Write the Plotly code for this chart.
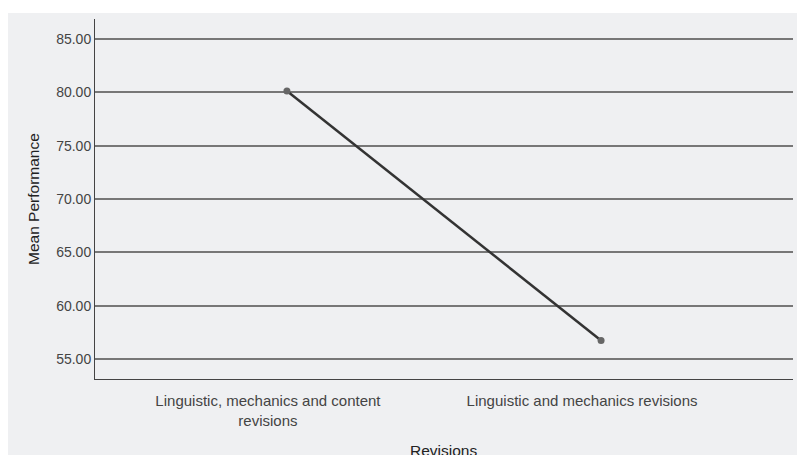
import plotly.graph_objects as go

categories = ["Linguistic, mechanics and content<br>revisions", "Linguistic and mechanics revisions"]
mean_performance = [80.13, 56.76]
y_ticks = [55, 60, 65, 70, 75, 80, 85]
y_tick_labels = ["55.00", "60.00", "65.00", "70.00", "75.00", "80.00", "85.00"]

# the page body has an 8px margin, so figure coordinates are page coordinates minus 8
OFF = 8
W, H = 805 - OFF, 455 - OFF
L, R, T, B = 95 - OFF, 805 - 793, 19 - OFF, 455 - 379
pw, ph = W - L - R, H - T - B


def px_x(page_x):
    return (page_x - OFF - L) / pw


def px_y(page_y):
    return (T + ph - (page_y - OFF)) / ph


fig = go.Figure()
fig.add_trace(go.Scatter(
    x=[0, 1], y=mean_performance, mode="lines+markers",
    line=dict(color="#333333", width=2.5),
    marker=dict(color="#666666", size=7),
    showlegend=False, hoverinfo="skip",
))

fig.add_shape(type="rect", xref="paper", yref="paper",
              x0=px_x(8), x1=px_x(805) + 0.02,
              y0=px_y(460), y1=px_y(13),
              fillcolor="#eff0f2", line_width=0, layer="below")

fig.add_annotation(text="Revisions", xref="paper", yref="paper",
                   x=px_x(443), y=px_y(440),
                   xanchor="center", yanchor="top", showarrow=False,
                   font=dict(size=15.5, color="#222222"))
fig.add_annotation(text="Mean Performance", xref="paper", yref="paper",
                   x=px_x(33), y=px_y(199), textangle=-90,
                   xanchor="center", yanchor="middle", showarrow=False,
                   font=dict(size=15.5, color="#222222"))

fig.update_layout(
    width=W, height=H,
    margin=dict(l=L, r=R, t=T, b=B, autoexpand=False),
    paper_bgcolor="white", plot_bgcolor="#eff0f2",
    font=dict(family="Liberation Sans, Arial, sans-serif", size=14, color="#444444"),
    xaxis=dict(
        range=[-0.611, 1.611], tickmode="array", tickvals=[0, 1], ticktext=categories,
        showgrid=False, zeroline=False, showline=True, linecolor="#444444", linewidth=1,
        ticks="", ticklabelshift=-19, ticklabelstandoff=8, automargin=False,
        tickfont=dict(size=15),
    ),
    yaxis=dict(
        range=[53.15, 86.87], tickmode="array", tickvals=y_ticks, ticktext=y_tick_labels,
        showgrid=True, gridcolor="#777777", gridwidth=1.5, zeroline=False,
        showline=True, linecolor="#444444", linewidth=1, ticks="", automargin=False,
        tickfont=dict(size=14),
    ),
)

fig.write_html("out.html")
